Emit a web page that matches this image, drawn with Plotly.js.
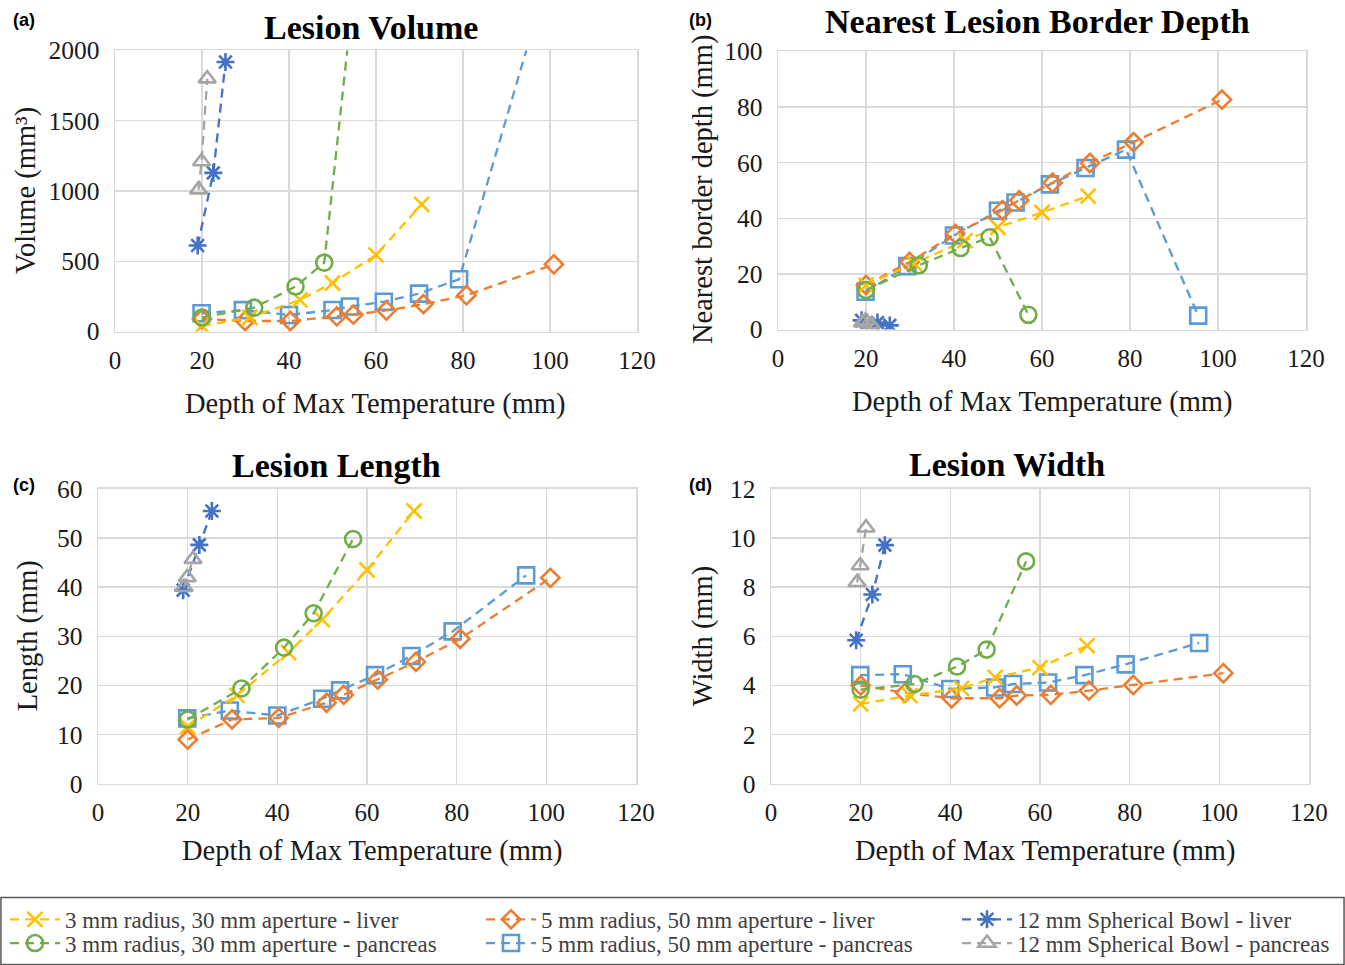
<!DOCTYPE html>
<html>
<head>
<meta charset="utf-8">
<script src="https://cdn.plot.ly/plotly-3.0.1.min.js"></script>
<style>html,body{margin:0;padding:0;background:#fff;}#chart{width:1345px;height:965px;}</style>
</head>
<body>
<div id="chart"></div>
<script>
// ---- data ----
const seriesNames = [
  "3 mm radius, 30 mm aperture - liver",
  "5 mm radius, 50 mm aperture - liver",
  "12 mm Spherical Bowl - liver",
  "3 mm radius, 30 mm aperture - pancreas",
  "5 mm radius, 50 mm aperture - pancreas",
  "12 mm Spherical Bowl - pancreas"
];
const panelTitles = ["Lesion Volume", "Nearest Lesion Border Depth", "Lesion Length", "Lesion Width"];
const panelLetters = ["(a)", "(b)", "(c)", "(d)"];
const yTitles = ["Volume (mm³)", "Nearest border depth (mm)", "Length (mm)", "Width (mm)"];
const xTitle = "Depth of Max Temperature (mm)";
const xTicks = [0, 20, 40, 60, 80, 100, 120];
const yTicksVolume = [0, 500, 1000, 1500, 2000];
const yTicksDepth = [0, 20, 40, 60, 80, 100];
const yTicksLength = [0, 10, 20, 30, 40, 50, 60];
const yTicksWidth = [0, 2, 4, 6, 8, 10, 12];

// depth of max temperature (mm) per configuration
const depth3mmLiver = [20, 31, 42.5, 50, 60, 70.5];
const depth5mmLiver = [20, 29.9, 40.3, 51, 54.8, 62.4, 70.9, 80.8, 100.9];
const depthBowlLiver = [19, 22.6, 25.4];
const depth3mmPancreas = [20, 32, 41.5, 48.1, 56.9];
const depth5mmPancreas = [19.9, 29.4, 40, 50, 54, 61.8, 69.9, 79.1, 95.5];
const depthBowlPancreas = [19.2, 19.9, 21.2];

// (a) lesion volume (mm^3)
const volume3mmLiver = [40, 100, 225, 345, 545, 905];
const volume5mmLiver = [90, 75, 75, 108, 120, 150, 195, 258, 478];
const volumeBowlLiver = [612, 1129, 1918];
const volume3mmPancreas = [100, 170, 320, 490, 3000];
const volume5mmPancreas = [130, 152, 118, 153, 178, 212, 270, 372, 2100];
const volumeBowlPancreas = [1010, 1210, 1800];

// (b) nearest lesion border depth (mm)
const border3mmLiver = [16, 23.7, 32, 36.8, 42.1, 48];
const border5mmLiver = [16, 24.3, 34.4, 42.9, 46.5, 52.8, 59.9, 67.4, 82.7];
const borderBowlLiver = [3.3, 2.5, 1.5];
const border3mmPancreas = [14.2, 23.1, 29.3, 33.2, 5.3];
const border5mmPancreas = [13.6, 22.8, 33.8, 42.7, 45.7, 52.2, 58.1, 64.7, 5.0];
const borderBowlPancreas = [2.5, 3.2, 1.8];

// (c) lesion length (mm)
const length3mmLiver = [11.6, 18, 26.7, 33.4, 43.5, 55.5];
const length5mmLiver = [9.0, 13.1, 13.4, 16.5, 18.1, 21.2, 24.8, 29.5, 41.9];
const lengthBowlLiver = [39.4, 48.6, 55.5];
const length3mmPancreas = [13.1, 19.4, 27.7, 34.7, 49.8];
const length5mmPancreas = [13.3, 14.9, 13.9, 17.3, 19, 22.1, 26, 31, 42.4];
const lengthBowlPancreas = [40, 42, 45.7];

// (d) lesion width (mm)
const width3mmLiver = [3.25, 3.59, 3.88, 4.33, 4.73, 5.62];
const width5mmLiver = [4.0, 3.7, 3.48, 3.48, 3.59, 3.62, 3.79, 4.02, 4.5];
const widthBowlLiver = [5.84, 7.7, 9.71];
const width3mmPancreas = [3.83, 4.06, 4.77, 5.46, 9.05];
const width5mmPancreas = [4.42, 4.46, 3.86, 3.92, 4.06, 4.12, 4.42, 4.86, 5.73];
const widthBowlPancreas = [8.2, 8.88, 10.42];

// ---- styles ----
const colors = ["#FFC000", "#ED7D31", "#4472C4", "#70AD47", "#5B9BD5", "#A5A5A5"];
const symbols = ["x-thin-open", "diamond-open", "asterisk-open", "circle-open", "square-open", "triangle-up-open"];
const msizes = [15, 14, 15, 16, 16, 15];
const legendIds = ["legend", "legend2", "legend3", "legend4", "legend5", "legend6"];

const depths = [depth3mmLiver, depth5mmLiver, depthBowlLiver, depth3mmPancreas, depth5mmPancreas, depthBowlPancreas];
const panelValues = [
  [volume3mmLiver, volume5mmLiver, volumeBowlLiver, volume3mmPancreas, volume5mmPancreas, volumeBowlPancreas],
  [border3mmLiver, border5mmLiver, borderBowlLiver, border3mmPancreas, border5mmPancreas, borderBowlPancreas],
  [length3mmLiver, length5mmLiver, lengthBowlLiver, length3mmPancreas, length5mmPancreas, lengthBowlPancreas],
  [width3mmLiver, width5mmLiver, widthBowlLiver, width3mmPancreas, width5mmPancreas, widthBowlPancreas]
];
const yTickSets = [yTicksVolume, yTicksDepth, yTicksLength, yTicksWidth];

const W = 1345, H = 965;
// plot boxes in pixels [left, right, top, bottom]
const boxes = [[115, 637, 51, 335], [778, 1306, 52, 333], [98, 636, 494, 792], [771, 1309, 494, 792]];

const traces = [];
const drawOrder = [4, 1, 0, 3, 2, 5];
for (let p = 0; p < 4; p++) {
  const ax = p === 0 ? "" : String(p + 1);
  for (const s of drawOrder) {
    traces.push({
      type: "scatter", mode: "lines+markers", name: seriesNames[s],
      x: depths[s], y: panelValues[p][s],
      xaxis: "x" + ax, yaxis: "y" + ax,
      legend: legendIds[s], legendgroup: "g" + s, showlegend: p === 0,
      line: {color: colors[s], width: 2.3, dash: "9px,6px"},
      marker: {symbol: symbols[s], size: msizes[s], color: colors[s], line: {color: colors[s], width: 2.6}},
      hoverinfo: "x+y+name"
    });
  }
}

const serif = "Liberation Serif, Times New Roman, serif";
const layout = {
  width: W, height: H,
  margin: {l: 0, r: 0, t: 0, b: 0},
  paper_bgcolor: "#ffffff", plot_bgcolor: "#ffffff",
  font: {family: serif, color: "#222222", size: 22},
  annotations: [],
  shapes: [{
    type: "rect", xref: "paper", yref: "paper",
    x0: 0.0007, x1: 0.9993, y0: -0.01, y1: 1 - 907 / H,
    line: {color: "#595959", width: 1.5}, fillcolor: "rgba(0,0,0,0)"
  }]
};

for (let p = 0; p < 4; p++) {
  const ax = p === 0 ? "" : String(p + 1);
  const b = boxes[p];
  const yt = yTickSets[p];
  layout["xaxis" + ax] = {
    domain: [b[0] / W, b[1] / W], anchor: "y" + ax, range: [0, 120],
    tickvals: xTicks, ticktext: xTicks.map(String),
    showgrid: true, gridcolor: "#D9D9D9", gridwidth: 1.5, zeroline: false,
    showline: true, linecolor: "#D9D9D9", linewidth: 1.5, mirror: true,
    ticks: "", ticklabelstandoff: 6,
    tickfont: {family: serif, size: 25, color: "#1a1a1a"}, fixedrange: true
  };
  layout["yaxis" + ax] = {
    domain: [1 - b[3] / H, 1 - b[2] / H], anchor: "x" + ax,
    range: [yt[0], yt[yt.length - 1]], tickvals: yt, ticktext: yt.map(String),
    showgrid: true, gridcolor: "#D9D9D9", gridwidth: 1.5, zeroline: false,
    showline: true, linecolor: "#D9D9D9", linewidth: 1.5, mirror: true,
    ticks: "", ticklabelstandoff: 9,
    tickfont: {family: serif, size: 25.5, color: "#1a1a1a"}, fixedrange: true
  };
}

const titlePos = [[371, 28], [1037, 22], [336, 470], [1007, 469]];
const xTitlePos = [[376, 408], [1042, 406], [372, 860], [1045, 860]];
const yTitlePos = [[26, 193], [703, 192], [28, 643], [703, 643]];
const letterPos = [[24, 20], [700, 20], [24, 490], [700, 490]];
for (let p = 0; p < 4; p++) {
  layout.annotations.push({
    text: "<b>" + panelTitles[p] + "</b>", xref: "paper", yref: "paper",
    x: titlePos[p][0] / W, y: 1 - titlePos[p][1] / H, xanchor: "center", yanchor: "middle",
    showarrow: false, font: {family: serif, size: 34, color: "#000000"}
  });
  layout.annotations.push({
    text: xTitle, xref: "paper", yref: "paper",
    x: xTitlePos[p][0] / W, y: 1 - xTitlePos[p][1] / H, xanchor: "center", yanchor: "middle",
    showarrow: false, font: {family: serif, size: 28.5, color: "#1a1a1a"}
  });
  layout.annotations.push({
    text: yTitles[p], xref: "paper", yref: "paper", textangle: -90,
    x: yTitlePos[p][0] / W, y: 1 - yTitlePos[p][1] / H, xanchor: "center", yanchor: "middle",
    showarrow: false, font: {family: serif, size: 28.5, color: "#1a1a1a"}
  });
  layout.annotations.push({
    text: "<b>" + panelLetters[p] + "</b>", xref: "paper", yref: "paper",
    x: letterPos[p][0] / W, y: 1 - letterPos[p][1] / H, xanchor: "center", yanchor: "middle",
    showarrow: false, font: {family: "Liberation Sans, Arial, sans-serif", size: 18, color: "#000000"}
  });
}

// one single-entry legend per series, placed on a 3 x 2 grid like the reference
const legendCols = [5, 481, 957];
const legendRows = [929, 953];
for (let s = 0; s < 6; s++) {
  layout[legendIds[s]] = {
    orientation: "v", xanchor: "left", yanchor: "middle",
    x: legendCols[s % 3] / W, y: 1 - legendRows[Math.floor(s / 3)] / H,
    bgcolor: "rgba(0,0,0,0)", borderwidth: 0,
    font: {family: serif, size: 23, color: "#404040"},
    itemwidth: 50, tracegroupgap: 0
  };
}

Plotly.newPlot("chart", traces, layout, {displayModeBar: false, staticPlot: true});
</script>
</body>
</html>
